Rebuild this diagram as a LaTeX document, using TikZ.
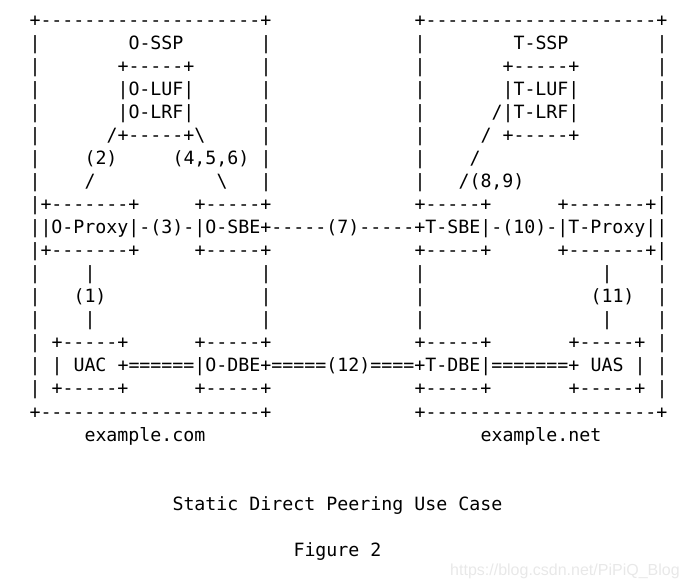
\documentclass[tikz,border=0pt]{standalone}
\usepackage{fontspec}
\setmonofont{DejaVu Sans Mono}
\newfontfamily\wmfont{Liberation Sans}
\newcommand{\bs}{\textbackslash}
\tikzset{
  asc/.style={anchor=base west, inner sep=0pt, outer sep=0pt,
    font=\ttfamily\fontsize{18.27}{23}\selectfont},
  wmark/.style={anchor=base west, inner sep=0pt, text=black!9,
    font=\wmfont\fontsize{16}{16}\selectfont}
}

\begin{document}
\begin{tikzpicture}[x=11pt,y=-23.06pt]
\useasboundingbox (-2.682,-0.128) rectangle (59.773,25.37);
% domain frames
\node[asc] (otop) at (0,1) {+--------------------+};
\node[asc] (ttop) at (35,1) {+---------------------+};
\node[asc] (obot) at (0,18) {+--------------------+};
\node[asc] (tbot) at (35,18) {+---------------------+};
\foreach \r in {2,3,4,5,6,7,8,12,13,14,15,16,17} {
  \node[asc] (lw\r) at (0,\r) {|};
  \node[asc] (rw\r) at (57,\r) {|};
}
\foreach \r in {2,3,4,5,6,7,8,12,13,14} {
  \node[asc] (ow\r) at (21,\r) {|};
  \node[asc] (tw\r) at (35,\r) {|};
}
% SSP servers
\node[asc] (ossp) at (9,2) {O-SSP};
\node[asc] (tssp) at (44,2) {T-SSP};
\node[asc] (olt) at (8,3) {+-----+};
\node[asc] (tlt) at (43,3) {+-----+};
\node[asc] (oluf) at (8,4) {|O-LUF|};
\node[asc] (tluf) at (43,4) {|T-LUF|};
\node[asc] (olrf) at (8,5) {|O-LRF|};
\node[asc] (tlrf) at (42,5) {/|T-LRF|};
\node[asc] (olb) at (7,6) {/+-----+\bs};
\node[asc] (ts6) at (41,6) {/};
\node[asc] (tlb) at (43,6) {+-----+};
\node[asc] (l2) at (5,7) {(2)};
\node[asc] (l456) at (13,7) {(4,5,6)};
\node[asc] (ts7) at (40,7) {/};
\node[asc] (os8) at (5,8) {/};
\node[asc] (ob8) at (17,8) {\bs};
\node[asc] (l89) at (39,8) {/(8,9)};
% signalling path
\node[asc] (opxt) at (0,9) {|+-------+};
\node[asc] (osbet) at (15,9) {+-----+};
\node[asc] (tsbet) at (35,9) {+-----+};
\node[asc] (tpxt) at (48,9) {+-------+|};
\node[asc] (sig) at (0,10) {||O-Proxy|-(3)-|O-SBE+-----(7)-----+T-SBE|-(10)-|T-Proxy||};
\node[asc] (opxb) at (0,11) {|+-------+};
\node[asc] (osbeb) at (15,11) {+-----+};
\node[asc] (tsbeb) at (35,11) {+-----+};
\node[asc] (tpxb) at (48,11) {+-------+|};
\foreach \r in {12,14} {
  \node[asc] (ou\r) at (5,\r) {|};
  \node[asc] (tu\r) at (52,\r) {|};
}
\node[asc] (l1) at (4,13) {(1)};
\node[asc] (l11) at (51,13) {(11)};
% media path
\node[asc] (uact) at (2,15) {+-----+};
\node[asc] (odbet) at (15,15) {+-----+};
\node[asc] (tdbet) at (35,15) {+-----+};
\node[asc] (uast) at (49,15) {+-----+};
\node[asc] (uacw) at (2,16) {|};
\node[asc] (uac) at (4,16) {UAC};
\node[asc] (media) at (8,16) {+======|O-DBE+=====(12)====+T-DBE|=======+};
\node[asc] (uas) at (51,16) {UAS};
\node[asc] (uasw) at (55,16) {|};
\node[asc] (uacb) at (2,17) {+-----+};
\node[asc] (odbeb) at (15,17) {+-----+};
\node[asc] (tdbeb) at (35,17) {+-----+};
\node[asc] (uasb) at (49,17) {+-----+};
% captions
\node[asc] (ocom) at (5,19) {example.com};
\node[asc] (tnet) at (41,19) {example.net};
\node[asc] (title) at (13,22) {Static Direct Peering Use Case};
\node[asc] (fig) at (24,24) {Figure 2};
\node[wmark] (wm) at (38.23,24.85) {https://blog.csdn.net/PiPiQ\_Blog};
\end{tikzpicture}
\end{document}
